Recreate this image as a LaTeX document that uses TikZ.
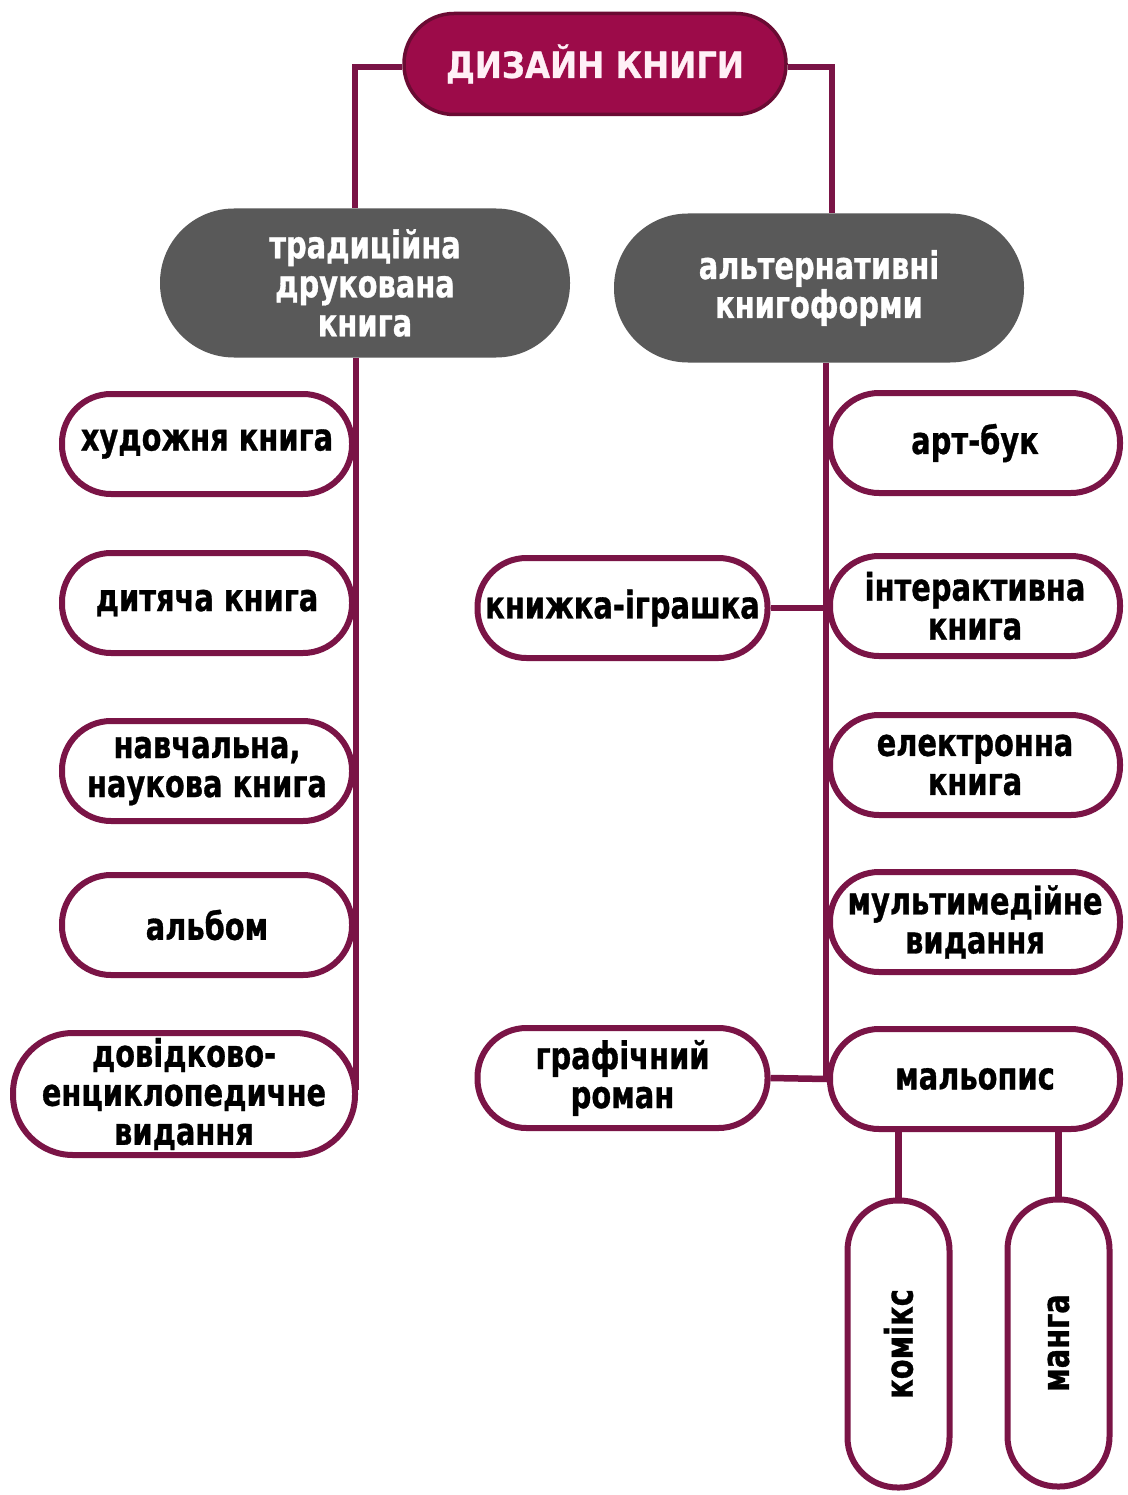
\documentclass[tikz,border=0pt]{standalone}
\usepackage{fontspec}
\usepackage{graphicx}
\newfontfamily\bodyfont{DejaVu Sans}[UprightFont=* Bold, FakeStretch=0.76, FakeBold=0.8]
\newfontfamily\headfont{DejaVu Sans}[UprightFont=* Bold, FakeStretch=0.9, FakeBold=0.8]
\newcommand\bodytext{\bodyfont\fontsize{38}{39}\selectfont}
\newcommand\headtext{\headfont\fontsize{36}{40}\selectfont}
\definecolor{mar}{HTML}{7A1446}
\definecolor{crim}{HTML}{9C0B49}
\definecolor{crimdark}{HTML}{6A0B33}
\definecolor{darkgr}{HTML}{595959}
\definecolor{pinkwhite}{HTML}{FFF0F6}
\tikzset{
  leaf/.style={rectangle, rounded corners=49pt, draw=mar, line width=6pt, fill=white,
    minimum width=290pt, minimum height=100pt, inner sep=0pt, align=center,
    font=\bodytext, text=black},
  vleaf/.style={rectangle, rounded corners=50pt, draw=mar, line width=6pt, fill=white,
    minimum width=102pt, minimum height=287pt, inner sep=0pt, align=center,
    font=\bodytext, text=black},
  headbox/.style={rectangle, rounded corners=50pt, draw=crimdark, line width=3.5pt, fill=crim,
    minimum width=382pt, minimum height=101pt, inner sep=0pt, align=center,
    font=\headtext, text=pinkwhite},
  catbox/.style={rectangle, rounded corners=74pt, fill=darkgr,
    minimum width=410pt, minimum height=149pt, inner sep=0pt, align=center,
    font=\bodytext, text=white},
  link/.style={draw=mar, line width=6.5pt}
}
\begin{document}
\begin{tikzpicture}[x=1pt,y=-1pt]
\useasboundingbox (0,0) rectangle (1127,1495);
\fill[white] (0,0) rectangle (1127,1495);

% title and categories
\node[headbox] (title) at (595,64) {ДИЗАЙН КНИГИ};
\node[catbox] (trad) at (365,283) {традиційна\\друкована\\книга};
\node[catbox] (alt) at (819,288) {альтернативні\\книгоформи};

\draw[link] ([yshift=-3pt]title.west) -| ([xshift=-10pt]trad.north);
\draw[link] ([yshift=-3pt]title.east) -| ([xshift=13pt]alt.north);

% left leaves
\node[leaf] (hud) at (207,444) {художня книга};
\node[leaf] (dyt) at (207,603) {дитяча книга};
\node[leaf] (navch) at (207,771) {навчальна,\\наукова книга};
\node[leaf] (alb) at (207,925) {альбом};

\coordinate (ltop) at ([xshift=1pt]trad.south -| hud.east);
\coordinate (lbot) at (ltop |- 0,1090);
\draw[link] (ltop) -- (lbot);

\node[leaf, minimum width=342pt, minimum height=122pt, rounded corners=60pt] (dov) at (184,1094) {довідково-\\енциклопедичне\\видання};

% right leaves
\node[leaf] (art) at (975,443) {арт-бук};
\node[leaf] (inter) at (975,606) {інтерактивна\\книга};
\node[leaf] (elek) at (975,765) {електронна\\книга};
\node[leaf] (mult) at (975,922) {мультимедійне\\видання};
\node[leaf] (maly) at (975,1079) {мальопис};

\node[leaf] (knyzh) at (622.5,608) {книжка-іграшка};
\node[leaf] (graf) at (622.5,1078) {графічний\\роман};

\coordinate (rtop) at ([xshift=-1pt]alt.south -| art.west);
\draw[link] (rtop) -- (rtop |- maly.west);
\draw[link] (knyzh.east) -- (knyzh.east -| art.west);
\draw[link] (graf.east) -- (maly.west);

% bottom
\node[vleaf] (kom) at (898.5,1344) {\rotatebox{90}{комікс}};
\node[vleaf] (manga) at (1058.5,1343) {\rotatebox{90}{манга}};
\draw[link] (kom.north) -- (kom.north |- maly.south);
\draw[link] (manga.north) -- (manga.north |- maly.south);
\end{tikzpicture}
\end{document}
